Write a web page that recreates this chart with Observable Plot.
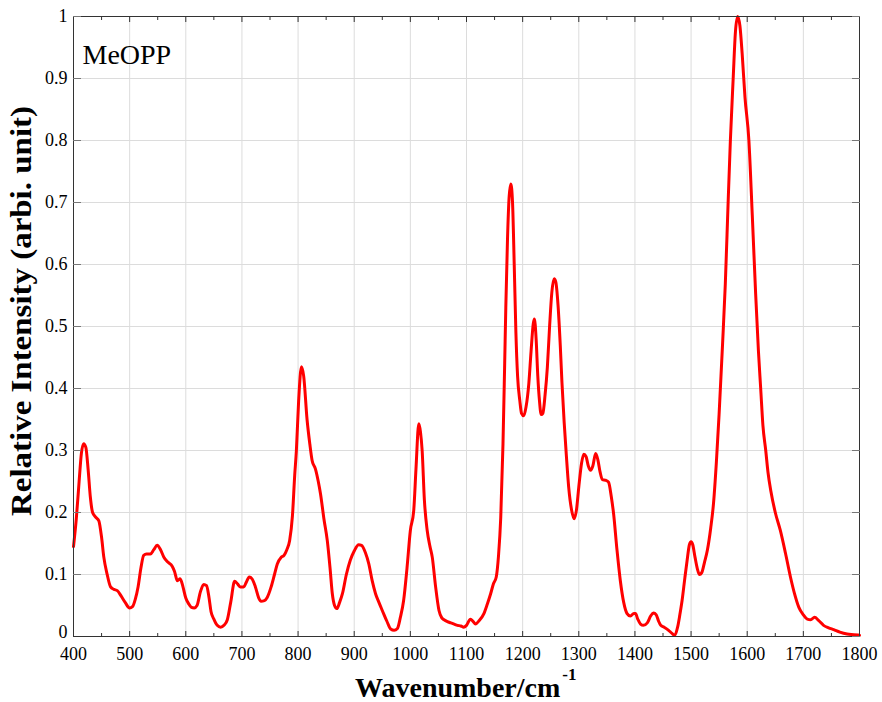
<!DOCTYPE html>
<html>
<head>
<meta charset="utf-8">
<script src="https://cdn.jsdelivr.net/npm/d3@7"></script>
<script src="https://cdn.jsdelivr.net/npm/@observablehq/plot@0.6"></script>
<style>
  html, body { margin: 0; padding: 0; background: #fff; }
  #chart svg { display: block; }
</style>
</head>
<body>
<div id="chart"></div>
<script>
// Raman spectrum of MeOPP
const wavenumber = [
  400,405,410,414,418,422,426,430,434,440,445,450,454,460,466,472,478,485,492,500,
  505,510,515,520,525,530,537,543,549,555,561,568,576,580,585,590,595,600,605,610,
  615,620,626,632,637,641,645,650,656,662,668,674,680,687,692,697,703,708,713,718,
  724,730,734,740,745,752,758,763,770,775,780,785,790,794,797,801,806,810,816,821,
  825,831,836,840,846,852,857,861,865,869,874,879,886,893,900,908,913,920,926,932,
  938,944,950,958,965,971,977,982,988,994,1000,1006,1010,1015,1018,1021,1025,1030,1035,1039,
  1045,1051,1056,1060,1066,1072,1078,1084,1090,1095,1100,1107,1112,1116,1122,1131,1137,1143,1148,1153,
  1157,1161,1165,1168,1170,1173,1176,1179,1182,1185,1188,1191,1195,1198,1202,1206,1211,1215,1219,1221,
  1224,1227,1230,1233,1236,1240,1244,1248,1252,1256,1259,1263,1267,1270,1274,1278,1282,1287,1292,1296,
  1300,1305,1309,1313,1317,1321,1325,1330,1334,1338,1342,1348,1353,1358,1362,1368,1374,1380,1386,1392,
  1398,1401,1405,1410,1415,1422,1428,1433,1438,1442,1446,1452,1460,1466,1471,1476,1480,1484,1489,1493,
  1497,1500,1503,1507,1511,1515,1519,1524,1529,1535,1540,1545,1550,1556,1561,1566,1570,1575,1579,1583,
  1587,1591,1596,1603,1609,1615,1620,1624,1628,1633,1637,1642,1650,1659,1668,1677,1684,1692,1700,1707,
  1713,1720,1727,1736,1745,1754,1765,1778,1790,1800
];
const intensity = [
  0.145,0.19,0.25,0.295,0.311,0.305,0.27,0.225,0.200,0.192,0.187,0.160,0.128,0.100,0.080,0.076,0.074,0.065,0.055,0.046,
  0.048,0.060,0.080,0.110,0.131,0.133,0.133,0.140,0.147,0.140,0.128,0.120,0.113,0.105,0.090,0.093,0.080,0.062,0.053,0.047,
  0.046,0.050,0.072,0.084,0.082,0.065,0.040,0.028,0.018,0.015,0.018,0.027,0.055,0.089,0.085,0.080,0.080,0.088,0.096,0.093,
  0.080,0.062,0.057,0.058,0.063,0.080,0.100,0.117,0.128,0.131,0.140,0.155,0.195,0.260,0.300,0.380,0.435,0.420,0.350,0.310,
  0.284,0.270,0.250,0.230,0.190,0.155,0.110,0.069,0.050,0.045,0.055,0.069,0.100,0.123,0.138,0.148,0.147,0.135,0.117,0.090,
  0.069,0.055,0.042,0.025,0.012,0.010,0.013,0.030,0.058,0.110,0.171,0.203,0.270,0.343,0.330,0.300,0.220,0.171,0.145,0.128,
  0.080,0.042,0.030,0.027,0.024,0.022,0.020,0.018,0.017,0.015,0.018,0.028,0.024,0.020,0.025,0.037,0.052,0.069,0.085,0.096,
  0.130,0.192,0.311,0.440,0.530,0.640,0.710,0.730,0.700,0.600,0.490,0.420,0.380,0.360,0.356,0.370,0.408,0.460,0.505,0.512,
  0.480,0.420,0.380,0.358,0.360,0.390,0.434,0.500,0.555,0.577,0.572,0.535,0.470,0.410,0.345,0.290,0.241,0.205,0.190,0.205,
  0.241,0.280,0.294,0.290,0.275,0.268,0.275,0.295,0.285,0.265,0.253,0.252,0.249,0.225,0.198,0.140,0.090,0.055,0.037,0.033,
  0.037,0.037,0.028,0.020,0.018,0.022,0.033,0.038,0.035,0.025,0.018,0.015,0.010,0.005,0.002,0.015,0.035,0.058,0.095,0.123,
  0.148,0.153,0.148,0.128,0.110,0.100,0.103,0.120,0.139,0.175,0.215,0.280,0.360,0.470,0.569,0.700,0.800,0.900,0.975,1.000,
  0.985,0.940,0.870,0.800,0.680,0.553,0.460,0.400,0.340,0.300,0.265,0.235,0.200,0.171,0.135,0.096,0.070,0.047,0.035,0.028,
  0.027,0.031,0.026,0.018,0.014,0.011,0.007,0.004,0.003,0.002
];
const xTicks = [400,500,600,700,800,900,1000,1100,1200,1300,1400,1500,1600,1700,1800];
const xMinorTicks = [450,550,650,750,850,950,1050,1150,1250,1350,1450,1550,1650,1750];
const yTicks = [0,0.1,0.2,0.3,0.4,0.5,0.6,0.7,0.8,0.9,1];
const sampleName = ["MeOPP"];
const xTitle = "Wavenumber/cm";
const xTitleSup = "-1";
const yTitle = "Relative Intensity (arbi. unit)";

const spectrum = wavenumber.map((w, i) => ({w, v: intensity[i]}));
const serif = "'Liberation Serif', Tinos, 'Times New Roman', 'DejaVu Serif', serif";
const blank = () => "";
const plain = d => String(d);
const yUpper = yTicks.filter(d => d > 0);
const yZero = yTicks.filter(d => d === 0);

const plot = Plot.plot({
  width: 882,
  height: 702,
  marginLeft: 73,
  marginRight: 23,
  marginTop: 16,
  marginBottom: 66,
  style: {fontFamily: serif, fontSize: "18px", color: "#000", background: "#fff"},
  x: {domain: [400, 1800]},
  y: {domain: [0, 1]},
  marks: [
    Plot.gridX(xTicks, {stroke: "#dcdcdc", strokeOpacity: 1}),
    Plot.gridY(yTicks, {stroke: "#dcdcdc", strokeOpacity: 1}),
    Plot.line(spectrum, {x: "w", y: "v", stroke: "#ff0000", strokeWidth: 3, curve: "monotone-x", strokeLinejoin: "round"}),
    Plot.frame({stroke: "#333"}),
    Plot.axisX(xTicks, {anchor: "bottom", tickSize: -5, tickPadding: 16, tickFormat: plain, label: null, fontSize: 18, stroke: "#333"}),
    Plot.axisX(xMinorTicks, {anchor: "bottom", tickSize: -3, tickFormat: blank, label: null, stroke: "#333"}),
    Plot.axisX(xTicks, {anchor: "top", tickSize: -5, tickFormat: blank, label: null, stroke: "#333"}),
    Plot.axisX(xMinorTicks, {anchor: "top", tickSize: -3, tickFormat: blank, label: null, stroke: "#333"}),
    Plot.axisY(yUpper, {anchor: "left", tickSize: -8, tickPadding: 14, tickFormat: plain, label: null, fontSize: 18, stroke: "#777"}),
    Plot.axisY(yZero, {anchor: "left", tickSize: 0, tickPadding: 6, dy: -4, tickFormat: plain, label: null, fontSize: 18, stroke: "none"}),
    Plot.axisY(yTicks, {anchor: "right", tickSize: -8, tickFormat: blank, label: null, stroke: "#777"}),
    Plot.text(sampleName, {frameAnchor: "top-left", dx: 9, dy: 47, lineAnchor: "bottom", textAnchor: "start", fontSize: 28, fill: "#000"})
  ]
});

document.getElementById("chart").appendChild(plot);

// axis titles (bold serif, with superscript on the x title)
const svg = d3.select(plot);
const xt = svg.append("text")
  .attr("x", 355).attr("y", 697)
  .attr("text-anchor", "start")
  .style("font-family", serif).style("font-weight", "bold").style("font-size", "28px")
  .attr("fill", "#000");
xt.append("tspan").text(xTitle);
xt.append("tspan").attr("dx", 2).attr("dy", -17).style("font-size", "17px").text(xTitleSup);

svg.append("text")
  .attr("transform", "translate(31,311) rotate(-90)")
  .attr("text-anchor", "middle")
  .style("font-family", serif).style("font-weight", "bold").style("font-size", "29px")
  .attr("textLength", 410).attr("lengthAdjust", "spacingAndGlyphs")
  .attr("fill", "#000")
  .text(yTitle);
</script>
</body>
</html>
